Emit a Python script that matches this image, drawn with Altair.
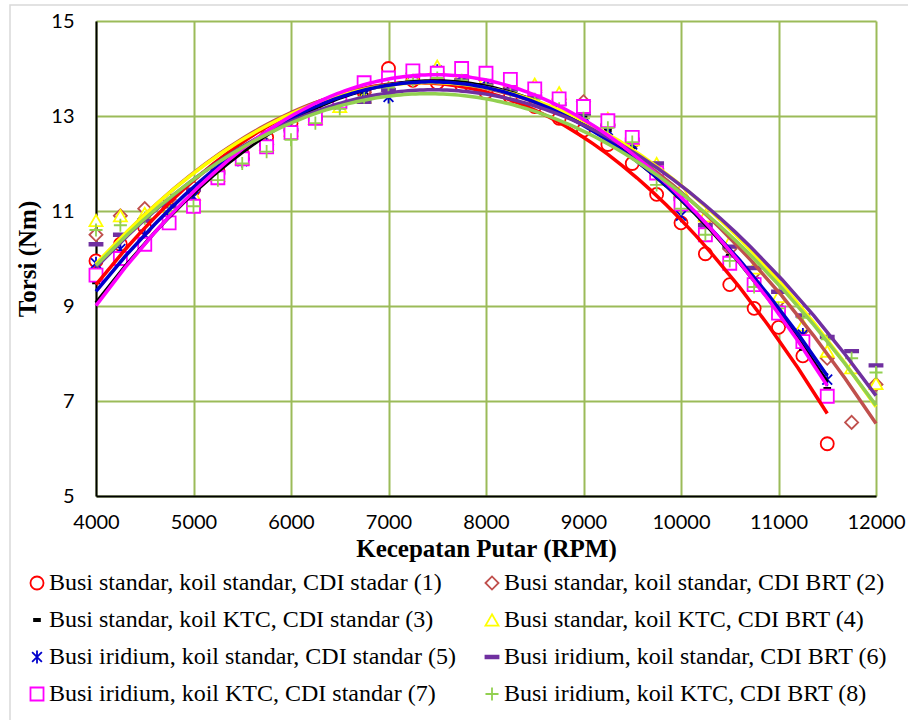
import altair as alt
import pandas as pd

# Engine speed (RPM) for each test configuration
rpm_11500 = [4000, 4250, 4500, 4750, 5000, 5250, 5500, 5750, 6000, 6250, 6500,
             6750, 7000, 7250, 7500, 7750, 8000, 8250, 8500, 8750, 9000, 9250,
             9500, 9750, 10000, 10250, 10500, 10750, 11000, 11250, 11500]
rpm_12000 = rpm_11500 + [11750, 12000]

series_names = [
    "Busi standar, koil standar, CDI stadar (1)",
    "Busi standar, koil standar, CDI BRT (2)",
    "Busi standar, koil KTC, CDI standar (3)",
    "Busi standar, koil KTC, CDI BRT (4)",
    "Busi iridium, koil standar, CDI standar (5)",
    "Busi iridium, koil standar, CDI BRT (6)",
    "Busi iridium, koil KTC, CDI standar (7)",
    "Busi iridium, koil KTC, CDI BRT (8)",
]

# Torque (Nm) per configuration
torque_1 = [9.95, 10.3, 10.65, 11.05, 11.45, 11.85, 12.2, 12.55, 12.85, 13.1, 13.35,
            13.5, 14.0, 13.75, 13.7, 13.65, 13.5, 13.4, 13.2, 12.95, 12.7, 12.4,
            12.0, 11.35, 10.75, 10.1, 9.45, 8.95, 8.55, 7.95, 6.1]
torque_2 = [10.5, 10.9, 11.05, 11.25, 11.5, 11.8, 12.1, 12.4, 12.7, 13.0, 13.25,
            13.5, 13.7, 13.9, 13.85, 13.85, 13.75, 13.6, 13.5, 13.35, 13.3, 12.8,
            12.4, 11.9, 11.3, 10.8, 10.2, 9.7, 9.1, 8.5, 7.9, 6.55, 7.35]
torque_3 = [9.5, 9.95, 10.4, 10.85, 11.25, 11.65, 12.0, 12.35, 12.65, 12.95, 13.2,
            13.45, 13.6, 13.75, 13.8, 13.8, 13.7, 13.6, 13.45, 13.25, 13.0, 12.7,
            12.35, 11.85, 11.3, 10.7, 10.05, 9.4, 8.75, 8.1, 7.25]
torque_4 = [10.8, 10.9, 10.95, 11.1, 11.35, 11.75, 12.1, 12.4, 12.7, 12.95, 13.2,
            13.4, 13.65, 13.85, 14.05, 13.9, 13.8, 13.75, 13.67, 13.49, 13.15, 12.95,
            12.5, 12.0, 11.45, 10.9, 10.35, 9.8, 9.2, 8.6, 8.05, 7.7, 7.37]
torque_5 = [9.9, 10.2, 10.5, 10.9, 11.3, 11.7, 12.05, 12.4, 12.7, 13.0, 13.25,
            13.45, 13.4, 13.9, 13.95, 13.85, 13.75, 13.6, 13.45, 13.25, 13.0, 12.7,
            12.4, 11.9, 10.9, 10.55, 9.95, 9.5, 8.9, 8.4, 7.45]
torque_6 = [10.3, 10.5, 10.8, 11.1, 11.45, 11.8, 12.1, 12.4, 12.7, 12.95, 13.2,
            13.3, 13.55, 13.7, 13.75, 13.75, 13.65, 13.55, 13.4, 13.25, 13.05, 12.8,
            12.5, 12.0, 11.25, 10.7, 10.25, 9.8, 9.3, 8.8, 8.35, 8.05, 7.75]
torque_7 = [9.65, 10.0, 10.3, 10.75, 11.1, 11.7, 12.1, 12.35, 12.65, 12.95, 13.3,
            13.7, 13.8, 13.95, 13.9, 14.0, 13.9, 13.77, 13.57, 13.36, 13.2, 12.9,
            12.55, 11.8, 11.15, 10.5, 9.9, 9.45, 8.85, 8.25, 7.1]
torque_8 = [10.6, 10.7, 10.85, 11.0, 11.1, 11.65, 12.0, 12.25, 12.5, 12.85, 13.15,
            13.4, 13.6, 13.75, 13.8, 13.75, 13.65, 13.5, 13.35, 13.15, 12.95, 12.75,
            12.45, 11.55, 11.05, 10.5, 9.95, 9.4, 8.95, 8.75, 8.3, 7.9, 7.6]

series_rpm = [rpm_11500, rpm_12000, rpm_11500, rpm_12000,
              rpm_11500, rpm_12000, rpm_11500, rpm_12000]
series_torque = [torque_1, torque_2, torque_3, torque_4,
                 torque_5, torque_6, torque_7, torque_8]

line_colors = ["#ff0000", "#c0504d", "#000000", "#ffff00",
               "#0000cc", "#7030a0", "#ff00ff", "#92d050"]
fill_colors = ["white", "white", "#000000", "white",
               "white", "#7030a0", "white", "white"]
marker_shapes = [
    "circle",
    "diamond",
    "M-0.45,-0.18L0.45,-0.18L0.45,0.18L-0.45,0.18Z",
    "triangle-up",
    "M-0.75,-0.75L0.75,0.75M-0.75,0.75L0.75,-0.75M0,-1L0,1",
    "M-1,-0.2L1,-0.2L1,0.2L-1,0.2Z",
    "square",
    "M-1,0L1,0M0,-1L0,1",
]

SERIF = "Liberation Serif, Times New Roman, Times, serif"

rows = []
for name, xs, ys in zip(series_names, series_rpm, series_torque):
    for x, y in zip(xs, ys):
        rows.append({"series": name, "rpm": x, "torque": y})
df = pd.DataFrame(rows)

x_enc = alt.X("rpm:Q", title="Kecepatan Putar (RPM)",
              scale=alt.Scale(domain=[4000, 12000], nice=False, zero=False),
              axis=alt.Axis(values=list(range(4000, 12001, 1000)), format="d",
                            labelFlush=False, titleY=60,
                            titleBaseline="alphabetic"))
y_enc = alt.Y("torque:Q", title="Torsi (Nm)",
              scale=alt.Scale(domain=[5, 15], nice=False, zero=False),
              axis=alt.Axis(values=[5, 7, 9, 11, 13, 15], titleX=-56))

legend = alt.Legend(orient="none", legendX=-71, legendY=550, columns=2,
                    direction="horizontal", title=None)

# Light frame around the whole chart area
frame = alt.Chart(pd.DataFrame({"k": [0]})).mark_rect(
    fill="white", fillOpacity=0, stroke="#d9d9d9", strokeWidth=1.5
).encode(x=alt.value(-86), x2=alt.value(830), y=alt.value(-16), y2=alt.value(715))

points = alt.Chart(df).mark_point(size=170, strokeWidth=1.8, opacity=1).encode(
    x=x_enc,
    y=y_enc,
    stroke=alt.Stroke("series:N", sort=series_names,
                      scale=alt.Scale(domain=series_names, range=line_colors),
                      legend=legend),
    fill=alt.Fill("series:N", sort=series_names,
                  scale=alt.Scale(domain=series_names, range=fill_colors),
                  legend=legend),
    shape=alt.Shape("series:N", sort=series_names,
                    scale=alt.Scale(domain=series_names, range=marker_shapes),
                    legend=legend),
)

# Second-order polynomial trend line per configuration, drawn in series order
trends = []
for name, colour in zip(series_names, line_colors):
    trends.append(
        alt.Chart(df).transform_filter(
            alt.datum.series == name
        ).transform_regression(
            "rpm", "torque", method="poly", order=2
        ).mark_line(strokeWidth=3.5, color=colour).encode(x=x_enc, y=y_enc)
    )

chart = alt.layer(frame, points, *trends).properties(
    width=780, height=475,
    autosize=alt.AutoSizeParams(type="none"),
    padding={"left": 96, "top": 21, "right": 32, "bottom": 224},
).configure_view(strokeWidth=0).configure_axis(
    grid=True, gridColor="#9bbb59", gridWidth=2, gridOpacity=1,
    domainColor="black", domainWidth=2, ticks=False,
    labelFont="Lato", labelFontSize=20, labelColor="black",
    titleFont=SERIF, titleFontSize=25, titleFontWeight="bold",
    titleColor="black",
).configure_axisX(labelPadding=16).configure_axisY(labelPadding=22).configure_legend(
    labelFont=SERIF, labelFontSize=24, labelColor="black", labelLimit=600,
    symbolSize=170, symbolStrokeWidth=1.8, rowPadding=13, columnPadding=24,
    labelOffset=0, padding=0,
)

chart.save("out.html", embed_options={"renderer": "svg", "actions": False})
